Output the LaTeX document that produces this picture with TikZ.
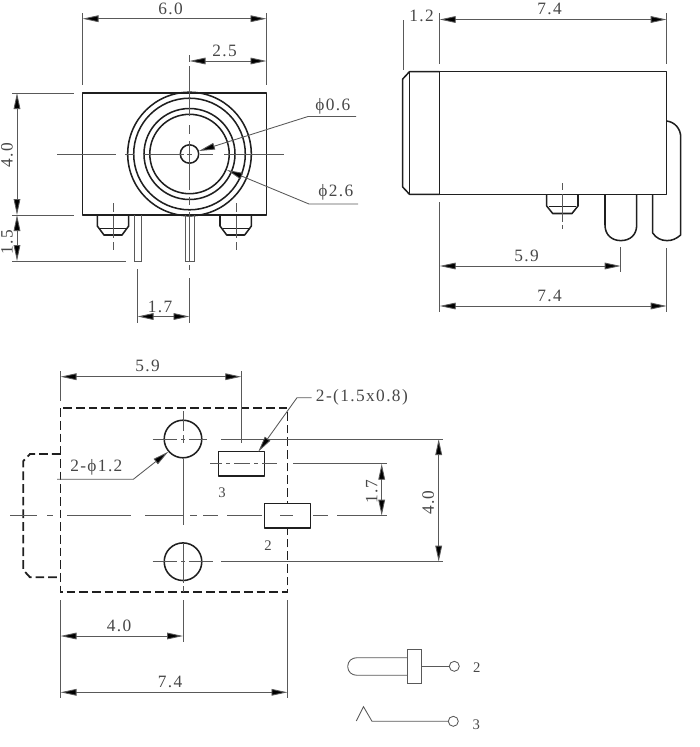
\documentclass[tikz,border=0pt]{standalone}
\usepackage{fontspec}
\setmainfont{Liberation Serif}[LetterSpace=8]
\usetikzlibrary{arrows.meta}
\tikzset{
  obj/.style={line width=1.15pt,draw=black!88,line join=round},
  fine/.style={line width=0.65pt,draw=black!65},
  hidden/.style={line width=1.35pt,draw=black!88,dash pattern=on 6.5pt off 3pt},
  dimline/.style={fine,{Triangle[length=12pt,width=5pt,fill=black]}-{Triangle[length=12pt,width=5pt,fill=black]}},
  tipline/.style={fine,-{Triangle[length=12pt,width=5pt,fill=black]}},
  lab/.style={inner sep=0pt,text=black!72,font=\fontsize{13}{15}\selectfont},
  smalllab/.style={inner sep=0pt,text=black!72,font=\fontsize{11}{13}\selectfont}
}
\begin{document}
\begin{tikzpicture}[x=0.75pt,y=-0.75pt]
\useasboundingbox (0,0) rectangle (700,747);

% ---------- front view ----------
\draw[obj] (82.5,93) rectangle (266.5,215);
\foreach \r in {61.8,55.8,45.5,39.7,9.2} \draw[obj] (189.5,154) circle[radius=\r];
\draw[obj] (97.3,215) -- (97.3,226) -- (104,235) -- (122,235) -- (128.7,226) -- (128.7,215);
\draw[obj,line width=0.7pt] (100,228) -- (126,228);
\draw[obj] (220,215) -- (220,226) -- (226.7,235) -- (244.7,235) -- (251.4,226) -- (251.4,215);
\draw[obj,line width=0.7pt] (222.7,228) -- (248.7,228);
\draw[fine] (134.3,215) -- (134.3,261) -- (141,261) -- (141,215);
\draw[fine] (185,215) -- (185,261) -- (194.7,261) -- (194.7,215);
% centre lines
\draw[fine] (189.5,55) -- (189.5,62) (189.5,66) -- (189.5,116) (189.5,125) -- (189.5,134)
  (189.5,141) -- (189.5,190) (189.5,197) -- (189.5,205) (189.5,212) -- (189.5,262) (189.5,265) -- (189.5,270);
\draw[fine] (57,154) -- (116,154) (125,154) -- (134,154) (143,154) -- (184,154) (187,154) -- (192,154)
  (200,154) -- (213,154) (224,154) -- (284,154);
\draw[fine] (113,203) -- (113,212) (113,216) -- (113,238) (113,242) -- (113,250);
\draw[fine] (236,203) -- (236,212) (236,216) -- (236,238) (236,242) -- (236,250);
% dimensions
\draw[fine] (82.5,13) -- (82.5,85) (266.5,13) -- (266.5,85);
\draw[dimline] (82.5,18.7) -- (266.5,18.7);
\node[lab] (t60) at (170.5,8.5) {6.0};
\draw[dimline] (189.5,61) -- (266.5,61);
\node[lab] (t25) at (224.5,50.5) {2.5};
\draw[fine] (12,93) -- (74,93) (12,215) -- (74,215) (12,261) -- (126,261);
\draw[dimline] (17,93) -- (17,215);
\draw[dimline] (17,215) -- (17,261);
\node[lab,rotate=90] (t40a) at (7,155) {4.0};
\node[lab,rotate=90] (t15) at (7,242) {1.5};
\draw[fine] (137.5,269) -- (137.5,323) (189.5,278) -- (189.5,323);
\draw[dimline] (137.5,316.5) -- (189.5,316.5);
\node[lab] (t17a) at (160,307) {1.7};
\node[lab,anchor=west] (p06) at (315,106) {ϕ0.6};
\node[lab,anchor=west] (p26) at (318,192.5) {ϕ2.6};
\draw[tipline] (356,116.5) -- (308,116.5) -- (199,151);
\draw[tipline] (358,204) -- (309,204) -- (227,170);

% ---------- side view ----------
\draw[obj] (439.7,71.7) rectangle (666.7,194.3);
\draw[obj] (439.7,71.7) -- (409.5,71.7) -- (402.7,79) -- (402.7,187) -- (409.5,194.3) -- (439.7,194.3);
\draw[obj] (409.5,71.7) -- (409.5,194.3);
\draw[obj] (666.7,121) .. controls (675,122) and (680.7,129) .. (680.7,137) -- (680.7,235)
  .. controls (676,239) and (672,240.6) .. (667,240.6) .. controls (661,240.6) and (656,238) .. (652.7,233) -- (652.7,194.3);
\draw[obj] (605,194.3) -- (605,225) .. controls (605,235) and (612,240.6) .. (620.8,240.6)
  .. controls (630,240.6) and (636.7,235) .. (636.7,225) -- (636.7,194.3);
\draw[obj] (546.7,194.3) -- (546.7,206) -- (552.7,213.5) -- (572,213.5) -- (578,206) -- (578,194.3);
\draw[obj,line width=0.7pt] (548.7,206.5) -- (576,206.5);
\draw[fine] (562,183) -- (562,190) (562,194) -- (562,222) (562,225) -- (562,229);
\draw[fine] (439.7,13) -- (439.7,64) (666.7,13) -- (666.7,64) (403,20) -- (403,70);
\draw[dimline] (439.7,19.5) -- (666.7,19.5);
\node[lab] (t74a) at (549.5,9) {7.4};
\node[lab] (t12) at (421.5,16) {1.2};
\draw[fine] (439.7,202) -- (439.7,312) (620.7,247) -- (620.7,272) (666.7,248) -- (666.7,312);
\draw[dimline] (439.7,266) -- (620.7,266);
\node[lab] (t59a) at (526.5,256) {5.9};
\draw[dimline] (439.7,306) -- (666.7,306);
\node[lab] (t74b) at (549.5,296) {7.4};

% ---------- footprint ----------
\draw[hidden] (60.5,408.3) rectangle (287.5,592.3);
\draw[hidden] (60.5,454) -- (30,454) -- (23.3,461) -- (23.3,570) -- (30,577.3) -- (60.5,577.3);
\draw[obj] (183,439) circle[radius=18.8];
\draw[obj] (183,561.7) circle[radius=18.8];
\draw[obj] (218.3,451.3) rectangle (264.3,476);
\draw[obj,fill=white] (264.3,503.3) rectangle (310.7,528);
\draw[fine] (152.7,439) -- (177,439) (181,439) -- (185,439) (189,439) -- (207,439) (221,439) -- (443,439);
\draw[fine] (152.7,561.7) -- (177,561.7) (181,561.7) -- (185,561.7) (189,561.7) -- (213,561.7) (221,561.7) -- (443,561.7);
\draw[fine] (210,463.7) -- (222,463.7) (226,463.7) -- (230,463.7) (234,463.7) -- (250,463.7) (254,463.7) -- (258,463.7) (262,463.7) -- (277,463.7) (293,463.7) -- (387,463.7);
\draw[fine] (10,515.7) -- (37,515.7) (47,515.7) -- (53,515.7) (67,515.7) -- (131,515.7) (145,515.7) -- (183,515.7)
  (190,515.7) -- (197,515.7) (203,515.7) -- (218,515.7) (227,515.7) -- (262,515.7) (280,515.7) -- (293,515.7) (313,515.7) -- (328,515.7) (337,515.7) -- (387,515.7);
\draw[fine] (183,411) -- (183,431) (183,435) -- (183,443) (183,459) -- (183,525) (183,543) -- (183,583) (183,586) -- (183,592) (183,600) -- (183,642);
\draw[fine] (60.5,371) -- (60.5,401) (241.3,371) -- (241.3,443);
\draw[dimline] (60.5,376.7) -- (241.3,376.7);
\node[lab] (t59b) at (147.5,366) {5.9};
\draw[fine] (60.5,600) -- (60.5,698) (287.5,600) -- (287.5,698);
\draw[dimline] (60.5,636) -- (183,636);
\node[lab] (t40b) at (119,626) {4.0};
\draw[dimline] (60.5,692.3) -- (287.5,692.3);
\node[lab] (t74c) at (170,682) {7.4};
\draw[dimline] (381.7,463.7) -- (381.7,515.7);
\node[lab,rotate=90] (t17b) at (371.7,491.7) {1.7};
\draw[dimline] (438.7,439) -- (438.7,561.7);
\node[lab,rotate=90] (t40c) at (428.3,502.7) {4.0};
\node[lab,anchor=west] (t2r) at (315.7,397.7) {2-(1.5x0.8)};
\node[lab,anchor=west] (t2p) at (70,467) {2-ϕ1.2};
\draw[tipline] (311.7,397.7) -- (297,397.7) -- (258.3,451.7);
\draw[tipline] (57,479.3) -- (133.3,479.3) -- (168.3,451.7);
\node[smalllab] (n3) at (222,492.7) {3};
\node[smalllab] (n2) at (268,546) {2};

% ---------- symbols ----------
\node[circle,draw=black!65,line width=0.65pt,minimum size=7.5pt,inner sep=0pt] (c2) at (454.3,666.3) {};
\node[circle,draw=black!65,line width=0.65pt,minimum size=7.5pt,inner sep=0pt] (c3) at (453.3,721.3) {};
\coordinate (s2) at (421.7,666.3);
\coordinate (s3) at (372,721.3);
\draw[fine] (407.7,649.3) rectangle (421.7,683.7);
\draw[fine] (407.7,657.7) -- (357,657.7) .. controls (352,657.7) and (347.7,661) .. (347.7,666.5)
  .. controls (347.7,672) and (352,675.3) .. (357,675.3) -- (407.7,675.3);
\draw[fine] (s2) -- (c2);
\draw[fine] (356.3,721) -- (363.5,706.7) -- (s3) -- (c3);
\node[smalllab] (n2s) at (476.7,667.3) {2};
\node[smalllab] (n3s) at (476.3,725) {3};
\end{tikzpicture}
\end{document}
